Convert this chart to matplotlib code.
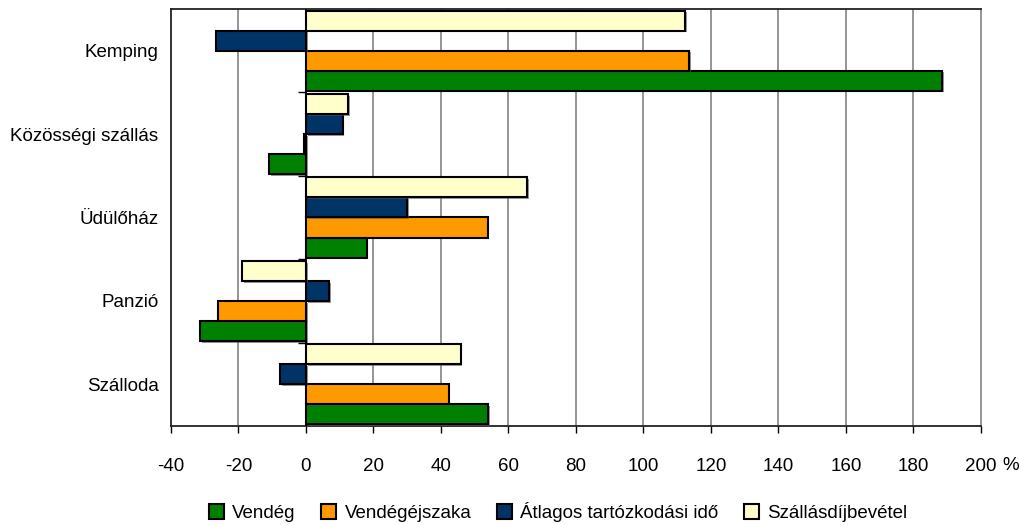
import matplotlib
matplotlib.use("Agg")
import matplotlib.pyplot as plt
import matplotlib.patheffects as pe
from matplotlib.patches import Patch
import numpy as np

plt.rcParams['font.family'] = ['Liberation Sans', 'DejaVu Sans']

categories = ["Szálloda", "Panzió", "Üdülőház", "Közösségi szállás", "Kemping"]
series_names = ["Vendég", "Vendégéjszaka", "Átlagos tartózkodási idő", "Szállásdíjbevétel"]
vendeg = [54, -31.3, 18, -10.9, 188.5]
vendegejszaka = [42.3, -26, 53.8, -0.6, 113.5]
atlagos = [-7.7, 6.8, 29.9, 10.9, -26.6]
szallasdij = [45.8, -18.9, 65.6, 12.4, 112.3]
series_values = [vendeg, vendegejszaka, atlagos, szallasdij]
colors = ["#008000", "#FF9900", "#003366", "#FFFFCC"]
xticks = [-40, -20, 0, 20, 40, 60, 80, 100, 120, 140, 160, 180, 200]
xticklabels = ["-40", "-20", "0", "20", "40", "60", "80", "100", "120", "140", "160", "180", "200"]

FS = 13.5

fig = plt.figure(figsize=(10.2, 5.25), dpi=100)
ax = fig.add_axes([171/1020, 1-426/525, 810/1020, 417/525])

y = np.arange(len(categories))
h = 0.24
for i, (vals, col) in enumerate(zip(series_values, colors)):
    off = (i - 1.5) * h
    ax.barh(y + off, vals, height=h, color=col, edgecolor="black", linewidth=1.5,
            zorder=3,
            path_effects=[pe.SimplePatchShadow(offset=(1.2, -1.2), shadow_rgbFace="#555555", alpha=0.6), pe.Normal()])

ax.set_xlim(-40, 200)
ax.set_ylim(-0.5, len(categories) - 0.5)
ax.set_xticks(xticks)
ax.set_xticklabels(xticklabels)
ax.set_yticks(y)
ax.set_yticklabels(categories)
ax.tick_params(axis='y', length=0, pad=9, labelsize=FS)
ax.tick_params(axis='x', length=5, width=1, color="#000000", pad=18, labelsize=FS, direction='out')
ax.annotate("%", xy=(200, 0), xycoords=('data', 'axes fraction'), xytext=(21, -40),
            textcoords='offset pixels', ha='left', va='center', fontsize=FS)

# gridlines
for t in xticks[1:-1]:
    if t != 0:
        ax.axvline(t, color="#8c8c8c", linewidth=1.3, zorder=1)
ax.axvline(0, color="black", linewidth=1.3, zorder=4)
# category tick marks on the zero axis
for b in np.arange(len(categories) - 1) + 0.5:
    ax.plot([-2.4, 0], [b, b], color="black", linewidth=1, zorder=4, solid_capstyle='butt')

for s in ["left", "bottom", "top"]:
    ax.spines[s].set_color("#222222")
    ax.spines[s].set_linewidth(1.3)
ax.spines["right"].set_color("#8c8c8c")
ax.spines["right"].set_linewidth(1.3)

handles = [Patch(facecolor=c, edgecolor="black", linewidth=1.5) for c in colors]
fig.legend(handles, series_names, loc='center', bbox_to_anchor=(558/1020, 1-512/525),
           ncol=4, frameon=False, fontsize=FS, handlelength=0.8, handleheight=0.8,
           handletextpad=0.45, columnspacing=1.35, borderpad=0)

fig.savefig("out.png", dpi=100)
